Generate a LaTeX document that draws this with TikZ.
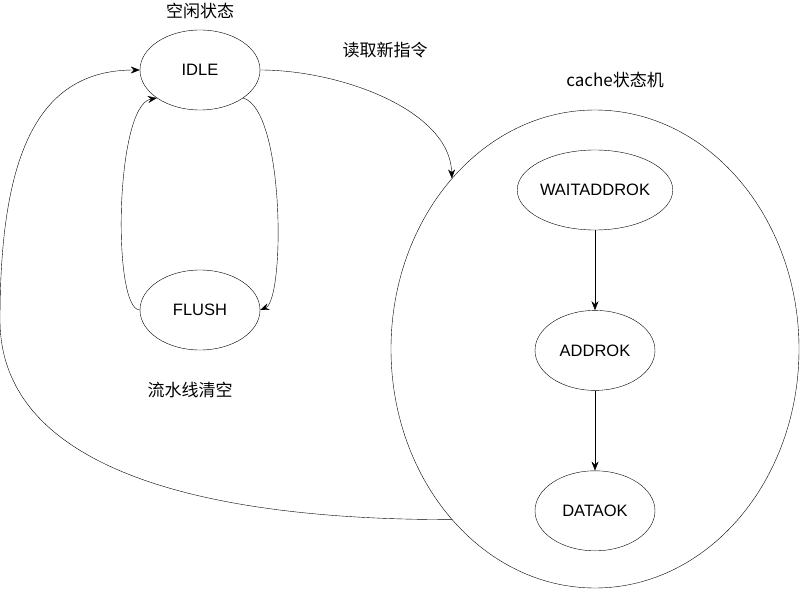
\documentclass[tikz,border=0pt]{standalone}
\usepackage{fontspec}
\setmainfont{Liberation Sans}
\newfontfamily\cjk{Noto Sans CJK SC}
\usetikzlibrary{shapes.geometric,positioning,arrows.meta}
\tikzset{
->,
>={Stealth[length=9pt,width=7pt,inset=3pt]},
line width=1pt,
node distance=80pt,
fsm/.style={ellipse, draw, minimum width=120pt, minimum height=80pt, inner sep=0pt, font=\fontsize{16.5}{20}\selectfont},
lbl/.style={font=\cjk\fontsize{17}{20}\selectfont},
}

\begin{document}
\begin{tikzpicture}
    [x=1pt,y=-1pt]
    \useasboundingbox (0,0) rectangle (801,591);

    %left
    \node[fsm] (IDLE) at (200,70) {IDLE};
    \node[fsm] (FLUSH) at (200,310) {FLUSH};

    %cache
    \node[fsm, minimum width=408pt, minimum height=478pt] (CACHE) at (595,349) {};
    \node[fsm] (WA) at (595,190) {WAITADDROK};
    \node[fsm, below=of WA] (AO) {ADDROK};
    \node[fsm, below=of AO] (DO) {DATAOK};

    %labels
    \node[lbl] (Lidle) at (200,11) {空闲状态};
    \node[lbl] (Lread) at (385,50) {读取新指令};
    \node[lbl] (Lcache) at (615,80) {cache状态机};
    \node[lbl] (Lflush) at (190,390) {流水线清空};

    \draw (IDLE.east) .. controls (340,70) and (450,110) .. (CACHE.130);
    \draw (CACHE.230) .. controls (180,520) and (0,460) .. (0,320)
        .. controls (0,150) and (40,70) .. (IDLE.west);
    \draw (FLUSH.west) .. controls (112,310) and (115,105) .. (IDLE.213);
    \draw (IDLE.327) .. controls (285,110) and (285,300) .. (FLUSH.east);
    \draw (WA) to (AO);
    \draw (AO) to (DO);

\end{tikzpicture}
\end{document}
